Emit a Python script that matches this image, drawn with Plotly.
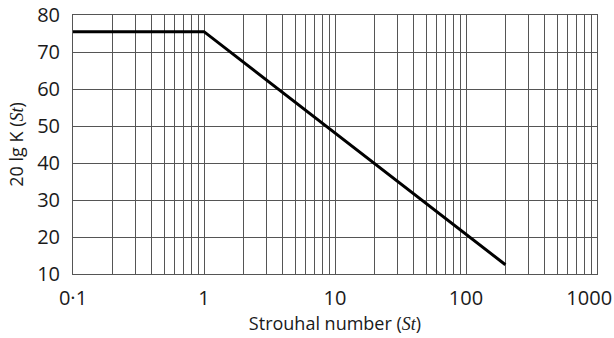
import plotly.graph_objects as go

# Data
st_values = [0.1, 1, 200]
level_db = [75.5, 75.5, 12.5]

x_decades = [0.1, 1, 10, 100, 1000]
x_decade_labels = ["0·1", "1", "10", "100", "1000\u00a0\u00a0\u00a0"]
y_ticks = [10, 20, 30, 40, 50, 60, 70, 80]

# build gridline positions (1..9 per decade) with labels only on decades
x_tickvals = []
x_ticktext = []
for d, lab in zip(x_decades[:-1], x_decade_labels[:-1]):
    for m in range(1, 10):
        x_tickvals.append(d * m)
        x_ticktext.append(lab if m == 1 else "")
x_tickvals.append(x_decades[-1])
x_ticktext.append(x_decade_labels[-1])

FONT = "Open Sans, Noto Sans, sans-serif"
GRID = "#555555"
ST = '<i><span style="font-family:Liberation Serif, serif">St</span></i>'

fig = go.Figure()
fig.add_trace(go.Scatter(
    x=st_values, y=level_db, mode="lines",
    line=dict(color="black", width=3),
    showlegend=False, hoverinfo="skip",
))

fig.update_layout(
    width=614, height=338,
    margin=dict(l=73, r=17, t=15, b=64),
    paper_bgcolor="white", plot_bgcolor="white",
    font=dict(family=FONT, size=18, color="#1a1a1a"),
)
fig.update_xaxes(
    type="log", range=[-1, 3],
    tickvals=x_tickvals, ticktext=x_ticktext, ticks="",
    ticklabeloverflow="allow", ticklabelstandoff=6,
    showgrid=True, gridcolor=GRID, gridwidth=1,
    showline=True, linecolor=GRID, linewidth=1, mirror=True,
    zeroline=False, automargin=False,
    tickfont=dict(size=20),
    title=dict(text=f"Strouhal number ({ST})", font=dict(size=18), standoff=6),
)
fig.update_yaxes(
    range=[10, 80], tickvals=y_ticks, ticks="",
    ticklabeloverflow="allow", ticklabelstandoff=8,
    showgrid=True, gridcolor=GRID, gridwidth=1,
    showline=True, linecolor=GRID, linewidth=1, mirror=True,
    zeroline=False, automargin=False,
    tickfont=dict(size=20),
    title=dict(text=f"20 lg K ({ST})", font=dict(size=18), standoff=8),
)

fig.write_html("out.html", config={"displayModeBar": False},
               post_script="document.body.style.margin='0';")
